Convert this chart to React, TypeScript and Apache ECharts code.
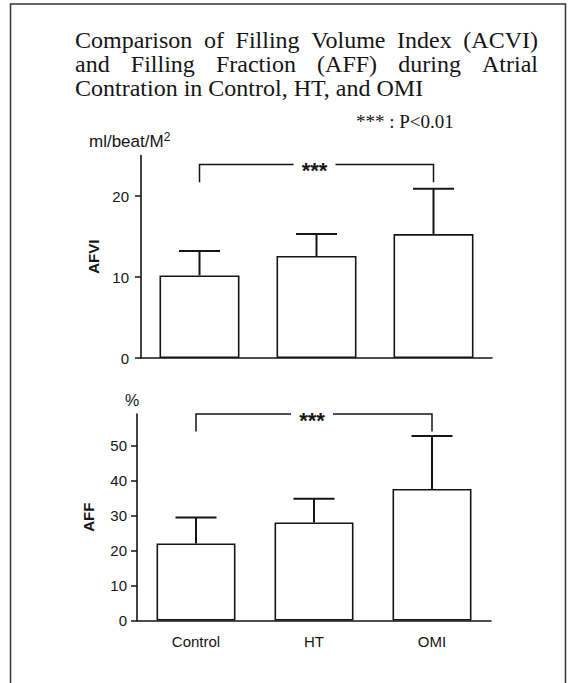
import React, { useEffect, useRef } from "react";
import * as echarts from "echarts";

const categories = ["Control", "HT", "OMI"];
const afviMean = [10.2, 12.6, 15.3];
const afviUpper = [13.2, 15.3, 20.9];
const affMean = [22.0, 28.0, 37.6];
const affUpper = [29.4, 34.8, 52.7];
const afviTicks = [0, 10, 20];
const affTicks = [0, 10, 20, 30, 40, 50];
// [from category, to category, bracket level, leg end]
const afviBracket = [0, 2, 23.9, 21.7];
const affBracket = [0, 2, 59, 54];
const titleLines = [
  "Comparison of Filling Volume Index (ACVI)",
  "and Filling Fraction (AFF) during Atrial",
  "Contration in Control, HT, and OMI",
];
const sigNote = "*** : P<0.01";
const sigMark = "***";

const SANS = "'Liberation Sans', Arial, sans-serif";
const SERIF = "'Liberation Serif', 'Times New Roman', serif";
const INK = "#151515";

function justifyLine(line: string, left: number, right: number, y: number, fontSize: number, justify: boolean) {
  const font = `${fontSize}px 'Liberation Serif'`;
  const baseStyle = { font: `${fontSize}px ${SERIF}`, fill: INK, align: "left", verticalAlign: "middle", textAlign: "left", textVerticalAlign: "middle" };
  if (!justify) {
    return [{ type: "text", x: left, y, style: { ...baseStyle, text: line } }];
  }
  const canvas = document.createElement("canvas");
  const ctx = canvas.getContext("2d")!;
  ctx.font = font;
  const words = line.split(" ");
  const widths = words.map((w) => ctx.measureText(w).width);
  const total = widths.reduce((a, b) => a + b, 0);
  const gap = (right - left - total) / (words.length - 1);
  let x = left;
  return words.map((w, i) => {
    const el = { type: "text", x, y, style: { ...baseStyle, text: w } };
    x += widths[i] + gap;
    return el;
  });
}

function errorRender(params: any, api: any) {
  const i = api.value(0);
  const p0 = api.coord([i, api.value(1)]);
  const p1 = api.coord([i, api.value(2)]);
  const half = 20.5;
  const st = { stroke: INK, lineWidth: 2 };
  return {
    type: "group",
    children: [
      { type: "line", shape: { x1: p0[0], y1: p0[1], x2: p1[0], y2: p1[1] }, style: st },
      { type: "line", shape: { x1: p1[0] - half, y1: p1[1], x2: p1[0] + half, y2: p1[1] }, style: st },
    ],
  };
}

function bracketRender(params: any, api: any) {
  const a = api.coord([api.value(0), api.value(2)]);
  const b = api.coord([api.value(1), api.value(2)]);
  const aLeg = api.coord([api.value(0), api.value(3)]);
  const bLeg = api.coord([api.value(1), api.value(3)]);
  const st = { stroke: INK, lineWidth: 1.5, fill: null };
  return {
    type: "group",
    children: [
      {
        type: "polyline",
        shape: { points: [[aLeg[0], aLeg[1]], [a[0], a[1]], [b[0], b[1]], [bLeg[0], bLeg[1]]] },
        style: st,
      },
      {
        type: "rect",
        shape: { x: (a[0] + b[0]) / 2 - 23, y: a[1] - 6, width: 42, height: 12 },
        style: { fill: "#fff", stroke: null },
      },
      {
        type: "text",
        x: (a[0] + b[0]) / 2 - 2,
        y: a[1] + 6,
        style: {
          text: sigMark,
          font: `bold 22px ${SANS}`,
          fill: INK,
          align: "center",
          verticalAlign: "middle",
        },
      },
    ],
  };
}

export default function App() {
  const ref = useRef<HTMLDivElement>(null);
  useEffect(() => {
    if (!ref.current) return;
    const chart = echarts.init(ref.current, null, { renderer: "svg" });
    const axisLine = { show: true, lineStyle: { color: INK, width: 1.6 } };
    const tickLabel = { color: INK, fontSize: 15, fontFamily: SANS };
    const yName = { color: INK, fontSize: 15, fontWeight: "bold", fontFamily: SANS };

    const graphics: any[] = [
      {
        type: "rect",
        shape: { x: 10.5, y: 4, width: 555, height: 720 },
        style: { fill: "none", stroke: "#333", lineWidth: 1.5 },
      },
      ...justifyLine(titleLines[0], 75, 538, 40, 24, true),
      ...justifyLine(titleLines[1], 75, 538, 64, 24, true),
      ...justifyLine(titleLines[2], 75, 538, 88, 24, false),
      {
        type: "text",
        x: 356,
        y: 121,
        style: { text: sigNote, font: `19px ${SERIF}`, fill: INK, align: "left", verticalAlign: "middle", textAlign: "left", textVerticalAlign: "middle" },
      },
      {
        type: "text",
        x: 89,
        y: 141,
        style: {
          text: "{a|ml/beat/M}{b|2}",
          fill: INK,
          align: "left",
          verticalAlign: "middle",
          textAlign: "left",
          textVerticalAlign: "middle",
          rich: {
            a: { fontSize: 17, fontFamily: SANS, color: INK, lineHeight: 20 },
            b: { fontSize: 12, fontFamily: SANS, color: INK, lineHeight: 20, padding: [0, 0, 8, 0] },
          },
        },
      },
      {
        type: "text",
        x: 132,
        y: 400,
        style: { text: "%", font: `16px ${SANS}`, fill: INK, align: "center", verticalAlign: "middle", textAlign: "center", textVerticalAlign: "middle" },
      },
    ];

    chart.setOption({
      animation: false,
      backgroundColor: "#fff",
      graphic: graphics,
      grid: [
        { left: 141, top: 155.5, width: 351, height: 202.5 },
        { left: 137, top: 414, width: 354, height: 206.5 },
      ],
      xAxis: [
        {
          gridIndex: 0,
          type: "category",
          data: categories,
          axisLine,
          axisTick: { show: false },
          axisLabel: { show: false },
        },
        {
          gridIndex: 1,
          type: "category",
          data: categories,
          axisLine,
          axisTick: { show: false },
          axisLabel: { ...tickLabel, margin: 13 },
        },
      ],
      yAxis: [
        {
          gridIndex: 0,
          type: "value",
          min: 0,
          max: 25,
          interval: 10,
          axisLine,
          axisTick: { show: true, length: 6, lineStyle: { color: INK, width: 1.5 }, customValues: afviTicks },
          axisLabel: { ...tickLabel, margin: 12, customValues: afviTicks },
          splitLine: { show: false },
          name: "AFVI",
          nameLocation: "middle",
          nameRotate: 90,
          nameGap: 38,
          nameTextStyle: yName,
        },
        {
          gridIndex: 1,
          type: "value",
          min: 0,
          max: 59,
          interval: 10,
          axisLine,
          axisTick: { show: true, length: 6, lineStyle: { color: INK, width: 1.5 }, customValues: affTicks },
          axisLabel: { ...tickLabel, margin: 10, customValues: affTicks },
          splitLine: { show: false },
          name: "AFF",
          nameLocation: "middle",
          nameRotate: 90,
          nameGap: 41,
          nameTextStyle: yName,
        },
      ],
      series: [
        {
          type: "bar",
          xAxisIndex: 0,
          yAxisIndex: 0,
          data: afviMean,
          barWidth: 80,
          itemStyle: { color: "#fff", borderColor: INK, borderWidth: 1.6 },
        },
        {
          type: "custom",
          xAxisIndex: 0,
          yAxisIndex: 0,
          renderItem: errorRender,
          data: categories.map((_, i) => [i, afviMean[i], afviUpper[i]]),
          z: 3,
        },
        {
          type: "custom",
          xAxisIndex: 0,
          yAxisIndex: 0,
          renderItem: bracketRender,
          data: [afviBracket],
          z: 4,
        },
        {
          type: "bar",
          xAxisIndex: 1,
          yAxisIndex: 1,
          data: affMean,
          barWidth: 79,
          itemStyle: { color: "#fff", borderColor: INK, borderWidth: 1.6 },
        },
        {
          type: "custom",
          xAxisIndex: 1,
          yAxisIndex: 1,
          renderItem: errorRender,
          data: categories.map((_, i) => [i, affMean[i], affUpper[i]]),
          z: 3,
        },
        {
          type: "custom",
          xAxisIndex: 1,
          yAxisIndex: 1,
          renderItem: bracketRender,
          data: [affBracket],
          z: 4,
        },
      ],
    });
    return () => chart.dispose();
  }, []);

  return (
    <div
      ref={ref}
      style={{ position: "fixed", left: 0, top: 0, width: 573, height: 683, background: "#fff" }}
    />
  );
}
